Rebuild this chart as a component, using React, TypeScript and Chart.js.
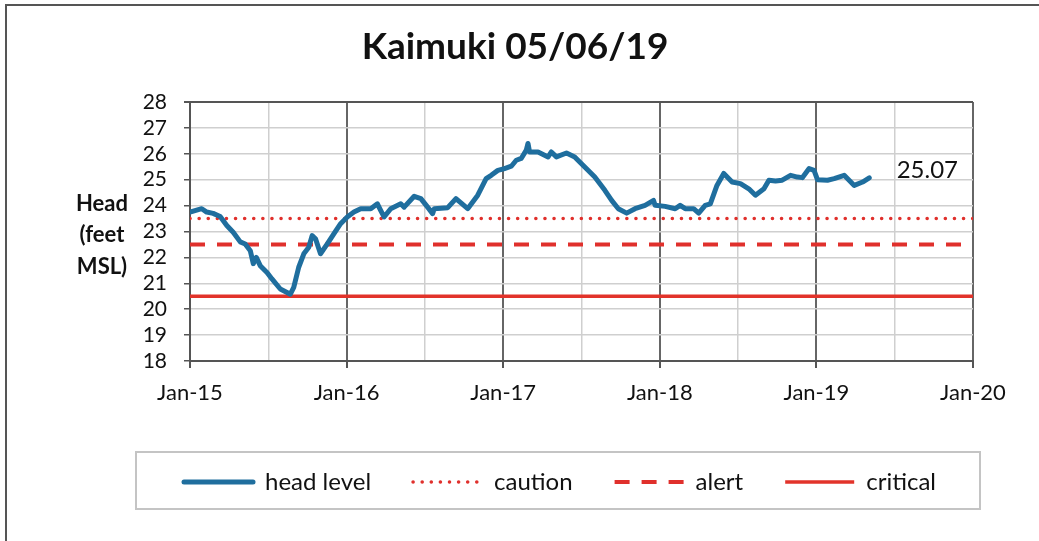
import React, { useEffect, useRef } from 'react';
import { Chart, registerables } from 'chart.js';

Chart.register(...registerables);

const chartTitle = 'Kaimuki 05/06/19';
const yAxisTitleLines = ['Head', '(feet', 'MSL)'];
const xTickLabels = ['Jan-15', 'Jan-16', 'Jan-17', 'Jan-18', 'Jan-19', 'Jan-20'];
const xMin = 0; // months since Jan 2015
const xMax = 60;
const yMin = 18;
const yMax = 28;

// months since Jan 2015
const headMonths = [
  0, 0.9, 1.28, 1.77, 2.31, 2.82, 3.31, 3.85, 4.23, 4.62,
  4.85, 5.08, 5.38, 5.9, 6.28, 6.92, 7.69, 7.95, 8.33, 8.72,
  9.1, 9.36, 9.62, 10.0, 10.52, 11.02, 11.54, 12.05, 12.56, 13.08,
  13.85, 14.36, 14.62, 14.87, 15.38, 16.15, 16.41, 17.18, 17.69, 18.21,
  18.59, 18.72, 19.75, 20.38, 21.28, 22.05, 22.69, 23.08, 23.59, 24.1,
  24.62, 25.0, 25.38, 25.77, 25.9, 26.02, 26.67, 27.44, 27.69, 28.08,
  28.85, 29.48, 30.25, 31.02, 31.79, 32.31, 32.82, 33.46, 34.1, 34.87,
  35.52, 35.64, 36.41, 37.18, 37.56, 37.95, 38.59, 38.98, 39.48, 39.87,
  40.38, 40.9, 41.54, 42.18, 42.82, 43.33, 43.98, 44.36, 44.87, 45.38,
  46.02, 46.54, 46.92, 47.44, 47.82, 48.08, 48.85, 49.36, 50.13, 50.9,
  51.54, 52.05,
];
const headLevels = [
  23.75, 23.88, 23.75, 23.7, 23.58, 23.23, 22.97, 22.6, 22.52, 22.26,
  21.76, 22.0, 21.68, 21.42, 21.17, 20.78, 20.58, 20.84, 21.62, 22.14,
  22.39, 22.84, 22.72, 22.14, 22.52, 22.91, 23.3, 23.56, 23.75, 23.88,
  23.88, 24.07, 23.81, 23.56, 23.88, 24.07, 23.94, 24.36, 24.27, 23.94,
  23.69, 23.88, 23.92, 24.27, 23.88, 24.4, 25.04, 25.17, 25.36, 25.43,
  25.52, 25.75, 25.82, 26.14, 26.4, 26.07, 26.07, 25.88, 26.07, 25.88,
  26.03, 25.88, 25.49, 25.1, 24.59, 24.2, 23.88, 23.71, 23.88, 24.01,
  24.2, 24.01, 23.97, 23.88, 24.01, 23.88, 23.88, 23.71, 24.01, 24.07,
  24.78, 25.24, 24.91, 24.85, 24.65, 24.4, 24.65, 24.98, 24.95, 24.98,
  25.17, 25.1, 25.08, 25.43, 25.36, 25.0, 24.98, 25.04, 25.17, 24.78,
  24.91, 25.07,
];

const cautionLevel = 23.5;
const alertLevel = 22.5;
const criticalLevel = 20.5;

const seriesNames = ['head level', 'caution', 'alert', 'critical'];

const latestText = '25.07';
const latestTextMonth = 56.5;
const latestTextLevel = 25.35;

const LEGEND_SHIFT = 45;

const decorPlugin = {
  id: 'decor',
  afterLayout(chart: any) {
    const lg = chart.legend;
    if (lg) {
      lg.left += LEGEND_SHIFT;
      lg.right += LEGEND_SHIFT;
      (lg.legendHitBoxes || []).forEach((h: any) => { h.left += LEGEND_SHIFT; });
    }
  },
  afterDraw(chart: any) {
    const ctx = chart.ctx;
    const { left, top, bottom } = chart.chartArea;
    ctx.save();
    // outer frame (top and left edges)
    ctx.strokeStyle = '#555';
    ctx.lineWidth = 2;
    ctx.beginPath();
    ctx.moveTo(6, 541);
    ctx.lineTo(6, 5);
    ctx.lineTo(1039, 5);
    ctx.stroke();

    // y-axis title (horizontal, three lines)
    ctx.fillStyle = '#111';
    ctx.font = 'bold 22px Lato';
    ctx.textAlign = 'center';
    ctx.textBaseline = 'middle';
    const mid = (top + bottom) / 2 + 3.5;
    yAxisTitleLines.forEach((t, i) => ctx.fillText(t, left - 88, mid + (i - 1) * 31.5));

    // latest value annotation
    ctx.font = '24px Lato';
    ctx.fillText(
      latestText,
      chart.scales.x.getPixelForValue(latestTextMonth),
      chart.scales.y.getPixelForValue(latestTextLevel)
    );

    // legend frame
    const hb = chart.legend.legendHitBoxes;
    if (hb && hb.length) {
      const l = Math.min(...hb.map((h: any) => h.left)) - 48;
      const r = Math.max(...hb.map((h: any) => h.left + h.width)) + 44;
      const cy = hb[0].top + hb[0].height / 2;
      ctx.strokeStyle = '#c4c4c4';
      ctx.lineWidth = 2;
      ctx.strokeRect(l, cy - 30, r - l, 57);
    }
    ctx.restore();
  },
};

export default function App() {
  const canvasRef = useRef<HTMLCanvasElement | null>(null);

  useEffect(() => {
    if (!canvasRef.current) return;
    Chart.defaults.font.family = 'Lato';
    const red = '#e0302c';
    const chart = new Chart(canvasRef.current, {
      type: 'line',
      data: {
        datasets: [
          {
            label: seriesNames[0],
            data: headMonths.map((m, i) => ({ x: m, y: headLevels[i] })),
            borderColor: '#1f6e9e',
            backgroundColor: '#1f6e9e',
            borderWidth: 5,
            pointRadius: 0,
            borderJoinStyle: 'round',
            borderCapStyle: 'round',
            tension: 0,
          },
          {
            label: seriesNames[1],
            data: [{ x: xMin, y: cautionLevel }, { x: xMax, y: cautionLevel }],
            borderColor: red,
            backgroundColor: red,
            borderWidth: 3.5,
            borderDash: [0.1, 9],
            borderCapStyle: 'round',
            pointRadius: 0,
          },
          {
            label: seriesNames[2],
            data: [{ x: xMin, y: alertLevel }, { x: xMax, y: alertLevel }],
            borderColor: red,
            backgroundColor: red,
            borderWidth: 4,
            borderDash: [15, 12],
            borderCapStyle: 'butt',
            pointRadius: 0,
          },
          {
            label: seriesNames[3],
            data: [{ x: xMin, y: criticalLevel }, { x: xMax, y: criticalLevel }],
            borderColor: '#e2332a',
            backgroundColor: '#e2332a',
            borderWidth: 3.5,
            borderCapStyle: 'butt',
            pointRadius: 0,
          },
        ],
      },
      options: {
        responsive: false,
        animation: false,
        layout: { padding: { left: 0, right: 9, top: 0, bottom: 37 } },
        plugins: {
          title: {
            display: true,
            text: chartTitle,
            color: '#111',
            font: { family: 'Lato', size: 37, weight: 'bold' },
            padding: { top: 24.8, bottom: 32.8 },
          },
          legend: {
            display: true,
            position: 'bottom',
            labels: {
              usePointStyle: true,
              pointStyle: 'line',
              pointStyleWidth: 69,
              padding: 42,
              color: '#111',
              font: { family: 'Lato', size: 24 },
              generateLabels: (c: any) => {
                const items = (Chart.defaults.plugins.legend.labels as any).generateLabels(c);
                items.forEach((it: any, i: number) => {
                  const ds = c.data.datasets[i];
                  it.lineDash = ds.borderDash || [];
                  it.lineCap = ds.borderCapStyle || 'butt';
                  it.lineWidth = ds.borderWidth;
                  it.strokeStyle = ds.borderColor;
                  it.fillStyle = ds.borderColor;
                  it.fontColor = '#111';
                });
                return items;
              },
            },
          },
          tooltip: { enabled: false },
        },
        scales: {
          x: {
            type: 'linear',
            min: xMin,
            max: xMax,
            ticks: {
              stepSize: 6,
              autoSkip: false,
              maxRotation: 0,
              padding: 12,
              color: '#111',
              font: { family: 'Lato', size: 22 },
              callback: (v: any) => (Number(v) % 12 === 0 ? xTickLabels[Number(v) / 12] : ''),
            },
            grid: {
              color: (c: any) => (c.tick && c.tick.value % 12 === 0 ? '#666' : '#cfcfcf'),
              lineWidth: (c: any) => (c.tick && c.tick.value % 12 === 0 ? 2 : 1.5),
              tickColor: (c: any) => (c.tick && c.tick.value % 12 === 0 ? '#555' : 'rgba(0,0,0,0)'),
              tickLength: 7,
            },
            border: { color: '#555', width: 2 },
            afterFit: (s: any) => { s.height = 67; },
          },
          y: {
            type: 'linear',
            position: 'left',
            min: yMin,
            max: yMax,
            ticks: {
              stepSize: 1,
              autoSkip: false,
              padding: 17,
              color: '#111',
              font: { family: 'Lato', size: 21 },
            },
            grid: {
              color: (c: any) => (c.tick && c.tick.value === yMax ? '#555' : '#cfcfcf'),
              lineWidth: (c: any) => (c.tick && c.tick.value === yMax ? 2 : 1.5),
              tickColor: '#555',
              tickLength: 6,
            },
            border: { color: '#555', width: 2 },
            afterFit: (s: any) => { s.width = 190; },
          },
          yRight: {
            type: 'linear',
            position: 'right',
            display: true,
            ticks: { display: false },
            grid: { display: false, drawTicks: false },
            border: { display: false },
            afterFit: (s: any) => { s.width = 57; },
          },
        },
      },
      plugins: [decorPlugin],
    } as any);
    return () => chart.destroy();
  }, []);

  return (
    <div style={{ position: 'fixed', left: 0, top: 0, width: 1039, height: 541, background: '#fff' }}>
      <canvas ref={canvasRef} width={1039} height={541} />
    </div>
  );
}
